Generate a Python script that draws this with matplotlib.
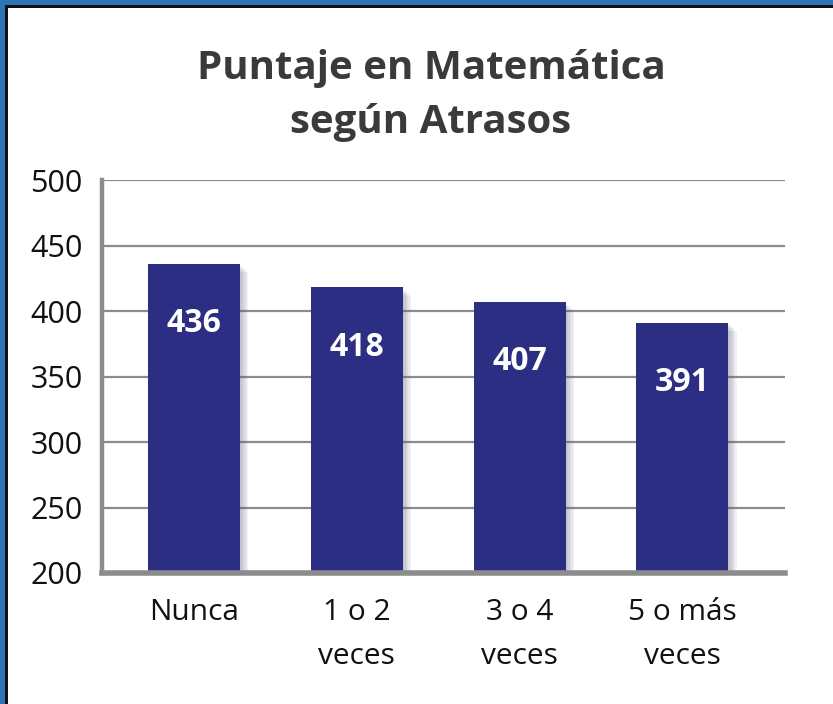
import matplotlib
matplotlib.use("Agg")
import matplotlib.pyplot as plt
from matplotlib.patches import Rectangle
import matplotlib.patheffects as pe

categories = ["Nunca", "1 o 2\nveces", "3 o 4\nveces", "5 o más\nveces"]
scores = [436, 418, 407, 391]
y_ticks = [200, 250, 300, 350, 400, 450, 500]

W, H = 833, 704
fig = plt.figure(figsize=(W / 100, H / 100), dpi=100)
fig.patch.set_facecolor("white")

# frame: blue band with a thin black inner line on top and left edges
fig.patches.append(Rectangle((0, 1 - 5 / H), 1, 5 / H, transform=fig.transFigure,
                             facecolor="#2E74B5", edgecolor="none", zorder=10))
fig.patches.append(Rectangle((0, 0), 5 / W, 1, transform=fig.transFigure,
                             facecolor="#2E74B5", edgecolor="none", zorder=10))
fig.patches.append(Rectangle((5 / W, 1 - 7.5 / H), 1, 2.5 / H, transform=fig.transFigure,
                             facecolor="#111111", edgecolor="none", zorder=10))
fig.patches.append(Rectangle((5 / W, 0), 2.5 / W, 1 - 5 / H, transform=fig.transFigure,
                             facecolor="#111111", edgecolor="none", zorder=10))

ax = fig.add_axes([102 / W, (H - 573) / H, (785 - 102) / W, (573 - 180) / H])
ax.set_facecolor("white")

x = list(range(len(categories)))
# soft drop shadow built from a few faint offset copies
shadow = [pe.SimplePatchShadow(offset=(o, -o), shadow_rgbFace="#5a5a78", alpha=0.07)
          for o in (6, 5, 4, 3, 2, 1)] + [pe.Normal()]
bars = ax.bar(x, [s - 200 for s in scores], bottom=200, width=0.565,
              color="#2B2E82", zorder=3)
for b in bars:
    b.set_path_effects(shadow)

for xi, s in zip(x, scores):
    ax.annotate(str(s), (xi, s), xytext=(0, -43), textcoords="offset points",
                ha="center", va="center", color="white", fontsize=23,
                fontweight="bold", family="Open Sans", zorder=4)

ax.set_ylim(200, 500)
ax.set_xlim(-0.565, 3.63)
ax.set_yticks(y_ticks)
ax.set_yticklabels([str(t) for t in y_ticks], fontsize=22, family="Open Sans", color="#111111")
ax.set_xticks(x)
ax.set_xticklabels(categories, fontsize=21.5, family="Open Sans", color="#111111", linespacing=1.68)
ax.tick_params(axis="both", length=0)
ax.tick_params(axis="y", pad=14)
ax.tick_params(axis="x", pad=18)

ax.yaxis.grid(True, color="#8C8C8C", linewidth=1.6, zorder=1)
ax.set_axisbelow(True)
for side in ["top", "right"]:
    ax.spines[side].set_visible(False)
ax.spines["left"].set_color("#8C8C8C")
ax.spines["left"].set_linewidth(3.2)
ax.spines["bottom"].set_color("#8C8C8C")
ax.spines["bottom"].set_linewidth(4)
ax.spines["bottom"].set_zorder(5)

fig.text(431 / W, 1 - 69 / H, "Puntaje en Matemática", ha="center", va="center",
         fontsize=29, fontweight="bold", family="Open Sans", color="#3A3A3A")
fig.text(431 / W, 1 - 122 / H, "según Atrasos", ha="center", va="center",
         fontsize=29, fontweight="bold", family="Open Sans", color="#3A3A3A")

fig.savefig("out.png", dpi=100, facecolor="white")
